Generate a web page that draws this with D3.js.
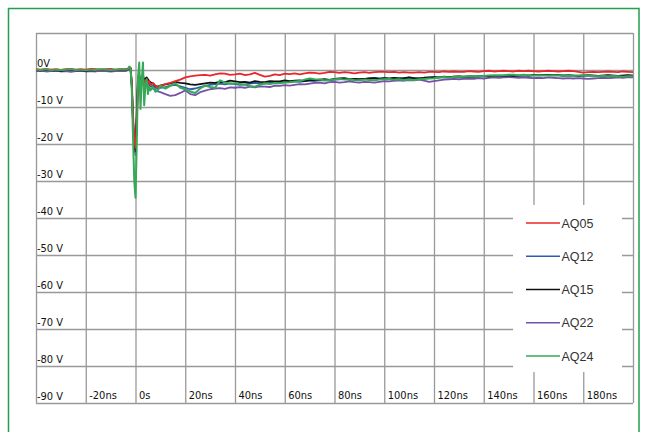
<!DOCTYPE html>
<html><head><meta charset="utf-8">
<script src="https://cdn.jsdelivr.net/npm/d3@7"></script>
<style>
html,body{margin:0;padding:0;background:#fff;}
svg{display:block;}
.ax text{font-family:"Liberation Sans Narrow","DejaVu Sans Condensed","Liberation Sans",sans-serif;font-stretch:condensed;font-size:11px;fill:#111;}
.leg text{font-family:"Liberation Sans",Arial,sans-serif;font-size:12.5px;fill:#333;}
</style>
</head><body>
<script>
// ---- data ----
const seriesNames = ["AQ05","AQ12","AQ15","AQ22","AQ24"];
const seriesColors = ["#e8262b","#2a5fb0","#111111","#7552a6","#35a955"];
const xTickValues = [-40,-20,0,20,40,60,80,100,120,140,160,180,200];
const xTickLabels = ["","-20ns","0s","20ns","40ns","60ns","80ns","100ns","120ns","140ns","160ns","180ns",""];
const yTickValues = [10,0,-10,-20,-30,-40,-50,-60,-70,-80,-90];
const yTickLabels = ["","0V","-10 V","-20 V","-30 V","-40 V","-50 V","-60 V","-70 V","-80 V","-90 V"];

const timeNs = [
-40,-38,-36,-34,-32,-30,-28,-26,-24,-22,-20,-18,-16,-14,-12,-10,-8,-6,-4,
-3,-2.5,-2,-1.5,-1,-0.5,0,0.5,1,1.5,2,2.5,3,3.5,4,4.5,5,5.5,6,7,8,9,10,
12,14,16,18,20,22,24,26,28,30,
32,34,36,38,40,42,44,46,48,50,
52,54,56,58,60,62,64,66,68,70,
72,74,76,78,80,82,84,86,88,90,
92,94,96,98,100,102,104,106,108,110,
112,114,116,118,120,122,124,126,128,130,
132,134,136,138,140,142,144,146,148,150,
152,154,156,158,160,162,164,166,168,170,
172,174,176,178,180,182,184,186,188,190,
192,194,196,198,200];

const AQ05 = [
0.2,0.1,0.3,0.1,0.2,0.0,0.2,0.3,0.1,0.2,0.1,0.3,0.2,0.1,0.2,0.3,0.1,0.2,0.3,
0.4,0.8,0.6,-3,-12,-19,-21,-14,-4,-1.5,-5,-3,-2,-4,-3,-2.5,-3.5,-3,-4,-3.5,-4.3,-4.6,-4.2,
-3.8,-3.5,-3.0,-2.6,-2.0,-1.7,-1.5,-1.4,-1.3,-1.5,
-1.2,-0.9,-1.0,-1.3,-1.2,-1.0,-1.4,-1.2,-0.8,-1.3,
-1.8,-1.6,-1.2,-1.4,-1.0,-1.1,-0.9,-1.2,-0.9,-0.7,
-0.8,-1.0,-0.8,-0.5,-0.6,-0.8,-0.6,-0.7,-0.9,-0.7,
-0.6,-0.8,-0.6,-0.5,-0.5,-0.6,-0.5,-0.7,-0.6,-0.7,
-0.7,-0.6,-0.7,-0.5,-0.5,-0.6,-0.4,-0.5,-0.4,-0.5,
-0.5,-0.3,-0.4,-0.5,-0.3,-0.2,-0.4,-0.3,-0.2,-0.3,
-0.4,-0.2,-0.3,-0.2,-0.3,-0.4,-0.3,-0.2,-0.3,-0.4,
-0.3,-0.2,-0.3,-0.5,-0.7,-0.6,-0.5,-0.6,-0.5,-0.4,
-0.5,-0.6,-0.4,-0.5,-0.6];

const AQ12 = [
-0.1,0.0,-0.2,0.0,-0.1,-0.1,0.0,-0.2,0.0,-0.1,0.0,-0.1,-0.2,0.0,-0.1,0.0,-0.2,-0.1,0.0,
0.1,0.6,0.4,-4,-14,-20,-22.5,-13,-3,-1.5,-5.5,-2.5,-2,-4,-3,-2.5,-3.5,-4,-4.5,-4.2,-4.8,-5.0,-4.8,
-4.6,-4.2,-4.0,-4.4,-4.8,-5.2,-5.0,-4.6,-4.3,-4.0,
-3.8,-3.7,-3.9,-3.6,-3.8,-4.0,-3.9,-3.7,-3.5,-3.6,
-3.7,-3.5,-3.4,-3.5,-3.2,-3.3,-3.1,-3.2,-3.0,-2.9,
-2.9,-2.8,-2.7,-2.8,-2.6,-2.5,-2.4,-2.6,-2.5,-2.6,
-2.5,-2.3,-2.1,-2.3,-2.2,-2.4,-2.2,-2.3,-2.2,-2.1,
-2.2,-2.3,-2.2,-2.1,-2.0,-2.0,-1.9,-2.0,-1.8,-1.8,
-1.9,-1.8,-1.8,-1.7,-1.7,-1.7,-1.6,-1.6,-1.6,-1.5,
-1.6,-1.6,-1.5,-1.5,-1.4,-1.4,-1.4,-1.4,-1.3,-1.4,
-1.5,-1.5,-1.5,-1.6,-1.5,-1.5,-1.5,-1.6,-1.5,-1.5,
-1.5,-1.6,-1.5,-1.5,-1.5];

const AQ15 = [
0.0,-0.1,0.1,-0.1,0.0,-0.2,0.0,0.1,-0.1,0.0,-0.2,0.0,-0.1,0.1,0.0,-0.1,0.0,0.1,0.0,
0.2,0.7,0.5,-4,-14,-20,-22,-12,-2,-1.2,-4.5,-2,-1.5,-2.7,-2.3,-2.0,-2.5,-3.0,-3.3,-3.6,-4.3,-4.5,-4.2,
-3.9,-3.6,-3.2,-3.5,-3.6,-3.9,-4.0,-3.8,-3.6,-3.4,
-3.5,-3.2,-3.3,-2.9,-3.1,-3.3,-3.2,-3.4,-3.0,-3.2,
-3.3,-3.0,-3.1,-3.1,-2.8,-3.0,-2.9,-2.8,-3.0,-2.7,
-2.8,-2.6,-2.5,-2.7,-2.4,-2.3,-2.2,-2.5,-2.4,-2.5,
-2.4,-2.3,-2.2,-2.4,-2.2,-2.3,-2.1,-2.3,-2.2,-2.0,
-2.2,-2.3,-2.1,-2.0,-1.9,-2.0,-1.8,-1.9,-1.8,-1.7,
-1.8,-1.7,-1.8,-1.7,-1.6,-1.7,-1.6,-1.5,-1.6,-1.5,
-1.6,-1.5,-1.4,-1.5,-1.4,-1.3,-1.4,-1.3,-1.3,-1.4,
-1.5,-1.4,-1.5,-1.6,-1.5,-1.4,-1.5,-1.6,-1.5,-1.4,
-1.5,-1.6,-1.5,-1.4,-1.5];

const AQ22 = [
-0.3,-0.2,-0.4,-0.3,-0.2,-0.4,-0.3,-0.5,-0.3,-0.2,-0.4,-0.3,-0.4,-0.2,-0.3,-0.4,-0.3,-0.2,-0.3,
0.0,0.5,0.3,-4,-14,-20,-23,-14,-4,-2,-6,-3,-2.5,-5,-3.5,-3,-4.5,-5,-5.2,-5.0,-5.3,-5.8,-6.0,
-6.5,-7.0,-6.8,-6.2,-5.5,-6.5,-6.8,-6.0,-5.6,-5.2,
-5.0,-4.9,-5.1,-4.7,-4.8,-4.6,-4.8,-4.5,-4.7,-4.4,
-4.5,-4.6,-4.2,-4.3,-4.1,-4.2,-4.0,-3.8,-3.9,-3.7,
-3.5,-3.4,-3.6,-3.3,-3.2,-3.4,-3.3,-3.1,-3.3,-3.4,
-3.2,-3.3,-3.4,-3.2,-3.0,-3.1,-2.9,-2.8,-2.9,-2.7,
-2.8,-2.6,-2.9,-3.2,-3.0,-2.8,-2.6,-2.5,-2.4,-2.5,
-2.4,-2.3,-2.4,-2.2,-2.3,-2.1,-2.0,-2.1,-2.0,-1.9,
-2.0,-2.1,-2.0,-2.1,-2.2,-2.1,-2.2,-2.0,-2.1,-2.2,
-2.3,-2.2,-2.3,-2.2,-2.3,-2.4,-2.3,-2.2,-2.1,-2.2,
-2.1,-2.0,-2.1,-1.9,-2.0];

const AQ24 = [
0.1,0.0,0.2,-0.1,0.1,0.0,0.1,0.2,0.0,0.1,-0.1,0.1,0.0,0.2,0.1,0.0,0.1,0.2,0.1,
0.3,0.9,0.6,-5,-18,-30,-34.5,-20,-2,2.0,-10.5,-3,2.0,-9.5,-4,-2.5,-6.5,-4.5,-5.5,-4.5,-5.9,-5.5,-4.3,
-5.0,-4.3,-3.6,-4.8,-5.2,-5.8,-6.2,-5.0,-4.2,-4.6,
-4.8,-2.8,-3.4,-3.7,-3.6,-3.8,-4.0,-4.3,-4.5,-4.0,
-3.6,-3.8,-3.5,-3.6,-3.4,-3.3,-3.1,-3.0,-2.6,-2.3,
-2.5,-2.6,-2.8,-2.7,-2.5,-2.4,-2.6,-2.5,-2.7,-2.8,
-2.6,-2.7,-2.8,-2.6,-2.5,-2.4,-2.6,-2.5,-2.7,-2.6,
-2.7,-2.5,-2.4,-2.3,-2.2,-2.0,-1.9,-2.0,-1.9,-1.8,
-1.8,-1.7,-1.6,-1.7,-1.6,-1.5,-1.4,-1.5,-1.4,-1.3,
-1.3,-1.4,-1.3,-1.4,-1.5,-1.4,-1.5,-1.5,-1.4,-1.5,
-1.4,-1.5,-1.6,-1.5,-1.4,-1.5,-1.6,-1.7,-1.6,-1.7,
-1.6,-1.7,-1.8,-1.7,-1.7];

const seriesValues = [AQ05, AQ12, AQ15, AQ22, AQ24];

// ---- layout ----
const W = 647, H = 432;
const L = 36, R = 633, T = 33, B = 403;

const svg = d3.select("body").append("svg").attr("width", W).attr("height", H);

svg.append("rect").attr("x", 8.5).attr("y", 8.5).attr("width", 630.5).attr("height", 440)
  .attr("fill", "none").attr("stroke", "#22a04b").attr("stroke-width", 1.5);

const x = d3.scaleLinear().domain([-40, 200]).range([L, R]);
const y = d3.scaleLinear().domain([-90, 10]).range([B, T]);

// vertical grid + x labels
const gx = svg.append("g").attr("class", "ax").attr("transform", `translate(0,${T})`)
  .call(d3.axisBottom(x).tickValues(xTickValues).tickSize(B - T)
    .tickFormat((d, i) => xTickLabels[i]));
gx.select(".domain").remove();
gx.selectAll("line").attr("stroke", "#999").attr("stroke-width", 1.3);
gx.selectAll("text").attr("y", B - T - 4).attr("dy", 0).attr("x", 3).attr("text-anchor", "start");

// horizontal grid + y labels
const gy = svg.append("g").attr("class", "ax").attr("transform", `translate(${L},0)`)
  .call(d3.axisLeft(y).tickValues(yTickValues).tickSize(-(R - L))
    .tickFormat((d, i) => yTickLabels[i]));
gy.select(".domain").remove();
gy.selectAll("line").attr("stroke", "#999").attr("stroke-width", 1.3);
gy.selectAll("text").attr("x", 1).attr("dy", -4).attr("text-anchor", "start");

// lines
const line = d3.line().x((d, i) => x(timeNs[i])).y(d => y(d));
const drawOrder = [1, 3, 2, 0, 4];
drawOrder.forEach(k => {
  svg.append("path").datum(seriesValues[k])
    .attr("fill", "none").attr("stroke", seriesColors[k])
    .attr("stroke-width", k === 4 ? 2 : 1.8)
    .attr("stroke-linejoin", "round")
    .attr("d", line);
});

// legend
const leg = svg.append("g").attr("class", "leg");
leg.append("rect").attr("x", 513).attr("y", 205).attr("width", 109).attr("height", 167).attr("fill", "#fff");
const legY = d3.scalePoint().domain(seriesNames).range([223, 356]);
seriesNames.forEach((n, i) => {
  leg.append("line").attr("x1", 526).attr("x2", 560).attr("y1", legY(n)).attr("y2", legY(n))
    .attr("stroke", seriesColors[i]).attr("stroke-width", 1.6);
  leg.append("text").attr("x", 561.5).attr("y", legY(n)).attr("dy", "0.36em").text(n);
});
</script>
</body></html>
